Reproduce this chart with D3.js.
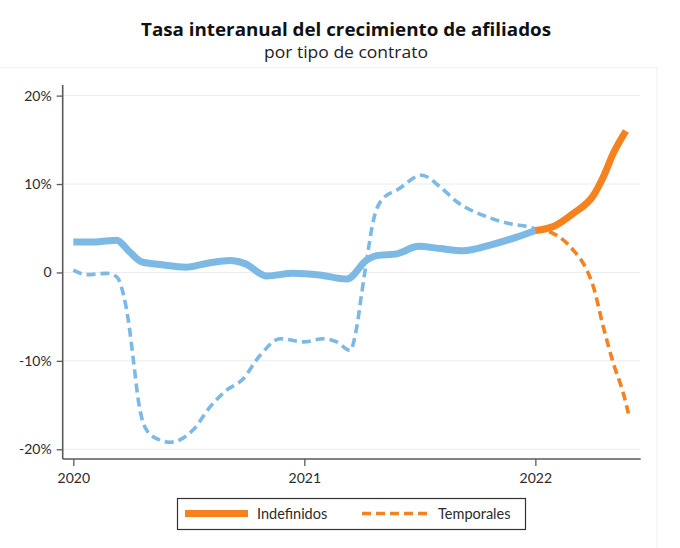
<!DOCTYPE html>
<html>
<head>
<meta charset="utf-8">
<script src="https://cdn.jsdelivr.net/npm/d3@7"></script>
<style>
  html, body { margin: 0; padding: 0; background: #fff; }
  svg { display: block; }
</style>
</head>
<body>
<svg id="chart" width="680" height="548"></svg>
<script>
// ---- Data (time as decimal years, values in %) ----
const indefTimes  = [2020.000, 2020.081, 2020.137, 2020.188, 2020.237, 2020.296, 2020.375, 2020.491, 2020.592, 2020.678,
                     2020.743, 2020.837, 2020.951, 2021.066, 2021.184, 2021.270, 2021.313, 2021.400, 2021.494, 2021.587,
                     2021.687, 2021.804, 2021.919, 2022.000];
const indefValues = [3.45, 3.45, 3.55, 3.65, 2.5, 1.2, 0.9, 0.6, 1.1, 1.35,
                     1.0, -0.4, -0.1, -0.3, -0.75, 1.4, 1.9, 2.1, 2.95, 2.7,
                     2.45, 3.1, 4.0, 4.75];
const indefTimes2022  = [2022.000, 2022.078, 2022.165, 2022.251, 2022.294, 2022.338, 2022.392];
const indefValues2022 = [4.75, 5.2, 6.7, 8.7, 10.8, 13.5, 16.0];

const tempTimes  = [2020.000, 2020.058, 2020.145, 2020.188, 2020.216, 2020.238, 2020.260, 2020.281, 2020.310, 2020.361,
                    2020.419, 2020.519, 2020.592, 2020.664, 2020.729, 2020.808, 2020.895, 2020.996, 2021.082, 2021.140,
                    2021.198, 2021.227, 2021.248, 2021.270, 2021.299, 2021.335, 2021.406, 2021.508, 2021.587, 2021.660,
                    2021.790, 2021.891, 2021.978, 2022.000];
const tempValues = [0.25, -0.25, -0.1, -0.5, -2.4, -5.4, -9.9, -14.4, -17.5, -18.8,
                    -19.2, -17.8, -15.2, -13.3, -12.2, -9.4, -7.5, -7.85, -7.5, -7.85,
                    -8.8, -6.15, -2.4, 1.4, 5.9, 8.2, 9.4, 11.0, 9.7, 8.0,
                    6.3, 5.5, 5.1, 4.9];
const tempTimes2022  = [2022.000, 2022.078, 2022.165, 2022.223, 2022.251, 2022.294, 2022.338, 2022.381, 2022.403];
const tempValues2022 = [4.9, 4.4, 2.5, 0.26, -1.6, -6.15, -10.3, -13.7, -15.95];

const yTicks = [20, 10, 0, -10, -20];
const yTickLabels = ["20%", "10%", "0", "-10%", "-20%"];
const xTicks = [2020, 2021, 2022];
const xTickLabels = ["2020", "2021", "2022"];
const legendLabels = ["Indefinidos", "Temporales"];

const title = "Tasa interanual del crecimiento de afiliados";
const subtitle = "por tipo de contrato";

// ---- Layout ----
const svg = d3.select("#chart");
const FONT = "Lato, 'Open Sans', sans-serif";
const TFONT = "'Open Sans', Lato, sans-serif";
const BLUE = "#7db9e5";
const ORANGE = "#f5821f";
const AXIS = "#5a5a5a";
const TEXT = "#2b2b2b";

const x = d3.scaleLinear().domain([2019.954, 2022.456]).range([62.7, 640.7]);
const y = d3.scaleLinear().domain([-21.1, 21.2]).range([459, 85]);

// faint panel frame
svg.append("rect").attr("x", -1).attr("y", 67.5).attr("width", 658).attr("height", 490)
  .attr("fill", "none").attr("stroke", "#f0f0f0").attr("stroke-width", 1);

// titles
svg.append("text").attr("x", 346).attr("y", 36).attr("text-anchor", "middle")
  .attr("font-family", TFONT).attr("font-weight", "bold").attr("font-size", 18).attr("fill", "#111")
  .attr("textLength", 410).attr("lengthAdjust", "spacingAndGlyphs")
  .text(title);
svg.append("text").attr("x", 346).attr("y", 58).attr("text-anchor", "middle")
  .attr("font-family", TFONT).attr("font-size", 15.5).attr("fill", "#222")
  .attr("textLength", 164).attr("lengthAdjust", "spacingAndGlyphs")
  .text(subtitle);

// gridlines
svg.append("g").selectAll("line").data(yTicks).join("line")
  .attr("x1", 63).attr("x2", 640)
  .attr("y1", d => y(d)).attr("y2", d => y(d))
  .attr("stroke", "#ececec").attr("stroke-width", 1);

// Y axis
const yAxis = d3.axisLeft(y).tickValues(yTicks).tickSize(6).tickPadding(5)
  .tickFormat((d, i) => yTickLabels[i]);
const gy = svg.append("g").attr("transform", "translate(62.7,0)").call(yAxis);
gy.select(".domain").attr("stroke", AXIS).attr("stroke-width", 1.6).attr("d", `M0,${y.range()[1]}V${y.range()[0]}`);
gy.selectAll(".tick line").attr("stroke", AXIS).attr("stroke-width", 1.3);
gy.selectAll(".tick text").attr("font-family", FONT).attr("font-size", 14).attr("fill", TEXT);

// X axis
const xAxis = d3.axisBottom(x).tickValues(xTicks).tickSize(7).tickPadding(7)
  .tickFormat((d, i) => xTickLabels[i]);
const gx = svg.append("g").attr("transform", "translate(0,459)").call(xAxis);
gx.select(".domain").attr("stroke", AXIS).attr("stroke-width", 1.6).attr("d", `M${x.range()[0]},0H${x.range()[1]}`);
gx.selectAll(".tick line").attr("stroke", AXIS).attr("stroke-width", 1.3);
gx.selectAll(".tick text").attr("font-family", FONT).attr("font-size", 14).attr("fill", TEXT);

// lines
const line = d3.line().x(d => x(d[0])).y(d => y(d[1])).curve(d3.curveMonotoneX);
const zip = (a, b) => a.map((t, i) => [t, b[i]]);

const g = svg.append("g");
g.append("path").datum(zip(tempTimes, tempValues)).attr("d", line)
  .attr("fill", "none").attr("stroke", BLUE).attr("stroke-width", 3.6)
  .attr("stroke-dasharray", "9,5");
g.append("path").datum(zip(indefTimes, indefValues)).attr("d", line)
  .attr("fill", "none").attr("stroke", BLUE).attr("stroke-width", 7)
  .attr("stroke-linejoin", "round");
g.append("path").datum(zip(tempTimes2022, tempValues2022)).attr("d", line)
  .attr("fill", "none").attr("stroke", ORANGE).attr("stroke-width", 3.6)
  .attr("stroke-dasharray", "9,5");
g.append("path").datum(zip(indefTimes2022, indefValues2022)).attr("d", line)
  .attr("fill", "none").attr("stroke", ORANGE).attr("stroke-width", 7)
  .attr("stroke-linejoin", "round");

// legend
const lg = svg.append("g");
lg.append("rect").attr("x", 177.5).attr("y", 498.5).attr("width", 348).attr("height", 31)
  .attr("fill", "#fff").attr("stroke", "#333").attr("stroke-width", 1.2);
lg.append("line").attr("x1", 185).attr("x2", 248).attr("y1", 513.5).attr("y2", 513.5)
  .attr("stroke", ORANGE).attr("stroke-width", 7);
lg.append("text").attr("x", 257).attr("y", 518.5).attr("font-family", FONT).attr("font-size", 14.5)
  .attr("fill", TEXT).text(legendLabels[0]);
lg.append("line").attr("x1", 362).attr("x2", 427).attr("y1", 513.5).attr("y2", 513.5)
  .attr("stroke", ORANGE).attr("stroke-width", 3.6).attr("stroke-dasharray", "9,5");
lg.append("text").attr("x", 438).attr("y", 518.5).attr("font-family", FONT).attr("font-size", 14.5)
  .attr("fill", TEXT).text(legendLabels[1]);
</script>
</body>
</html>
